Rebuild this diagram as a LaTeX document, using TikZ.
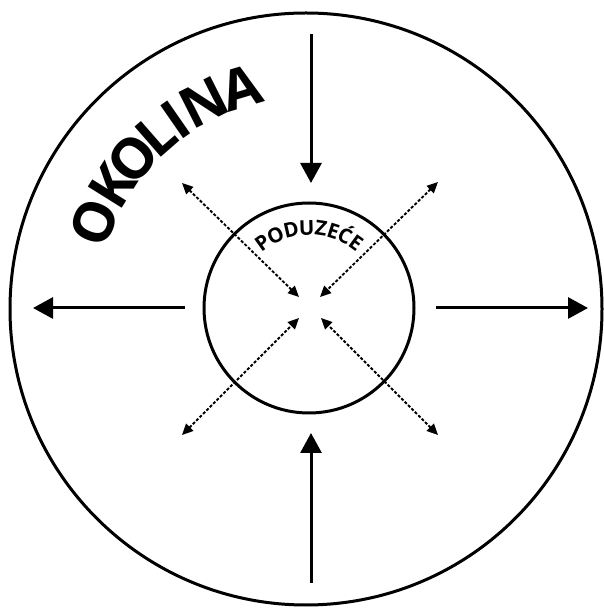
\documentclass[tikz,border=0pt]{standalone}
\usepackage{fontspec}
\setmainfont{Open Sans}
\usetikzlibrary{arrows.meta,calc}
\tikzset{
  ring/.style={draw=black, line width=3pt},
  bigarrow/.style={line width=3pt, -{Triangle[length=20pt,width=21pt]}},
  dasharrow/.style={line width=1.9pt, dash pattern=on 3pt off 1.8pt, {Triangle[length=11pt,width=10pt]}-{Triangle[length=11pt,width=10pt]}},
  bigletter/.style={inner sep=0pt, anchor=base, font=\fontsize{56}{56}\selectfont\bfseries},
  smallletter/.style={inner sep=0pt, anchor=base, font=\fontsize{20.5}{20.5}\selectfont\bfseries}
}
\begin{document}
\begin{tikzpicture}[x=1pt,y=1pt]
\useasboundingbox[fill=white] (0,0) rectangle (603,608);
% circles
\node[ring, circle, minimum size=592pt, inner sep=0pt] (env) at (306,299) {};
\node[ring, circle, minimum size=210pt, inner sep=0pt] (firm) at (309,300) {};
% solid arrow endpoints
\coordinate (tS) at (311,574); \coordinate (tE) at (311,425);
\coordinate (bS) at (311,25);  \coordinate (bE) at (311,175);
\coordinate (lS) at (185,300); \coordinate (lE) at (33,300);
\coordinate (rS) at (436,300); \coordinate (rE) at (588,300);
\draw[bigarrow] (tS) -- (tE);
\draw[bigarrow] (bS) -- (bE);
\draw[bigarrow] (lS) -- (lE);
\draw[bigarrow] (rS) -- (rE);
% dashed double arrows
\coordinate (ulA) at (182,425); \coordinate (ulB) at (299,311);
\coordinate (urA) at (438,426); \coordinate (urB) at (320,311);
\coordinate (llA) at (182,173); \coordinate (llB) at (299,290);
\coordinate (lrA) at (438,173); \coordinate (lrB) at (321,290);
\draw[dasharrow] (ulA) -- (ulB);
\draw[dasharrow] (urA) -- (urB);
\draw[dasharrow] (llA) -- (llB);
\draw[dasharrow] (lrA) -- (lrB);
% OKOLINA
\coordinate (oc) at (308,299);
\foreach \ch/\ang [count=\i] in {O/158,K/148,O/139.4,L/131.1,I/124.8,N/116.8,A/106.7}{
  \node[bigletter, rotate=\ang-90] (ok\i) at ($(oc)+(\ang:211)$) {\ch};
}
% PODUZEĆE
\coordinate (pc) at (309,300);
\foreach \ch/\ang [count=\i] in {P/125.4,O/114.6,D/102.9,U/91.6,Z/81.4,E/72.4,Ć/63.3,E/54.2}{
  \node[smallletter, rotate=\ang-90] (pd\i) at ($(pc)+(\ang:73)$) {\ch};
}
\end{tikzpicture}
\end{document}
